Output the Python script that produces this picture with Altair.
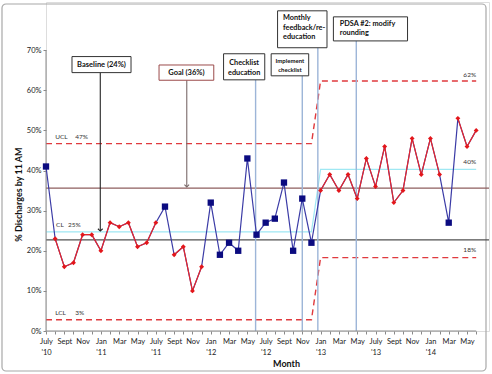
import json
import altair as alt
import pandas as pd

# ---------------- data ----------------
month_idx = list(range(48))  # July 2010 ... June 2014
pct = [41, 23, 16, 17, 24, 24, 20, 27, 26, 27, 21, 22, 27, 31, 19, 21, 10, 16,
       32, 19, 22, 20, 43, 24, 27, 28, 37, 20, 33, 22, 35, 39, 35, 39, 33, 43,
       36, 46, 32, 35, 48, 39, 48, 39, 27, 53, 46, 50]
kind = ["b"] + ["r"] * 12 + ["b"] + ["r"] * 4 + ["b"] * 12 + ["r"] * 14 + ["b"] + ["r"] * 3

tick_month = ["July", "Sept", "Nov", "Jan", "Mar", "May"] * 4
tick_year = {0: "'10", 6: "'11", 12: "'11", 18: "'12", 24: "'12", 30: "'13", 36: "'13", 42: "'14"}

# control limits (step after Dec '12)
ucl_x = [0, 29, 30, 47]
ucl_y = [46.7, 46.7, 62.3, 62.3]
cl_x = [0, 29, 30, 47]
cl_y = [24.7, 24.7, 40.3, 40.3]
lcl_x = [0, 29, 30, 47]
lcl_y = [2.8, 2.8, 18.3, 18.3]

baseline_level = 22.7
goal_level = 35.6

limit_label_text = ["UCL", "47%", "CL", "25%", "LCL", "3%", "62%", "40%", "18%"]
limit_label_x = [1.0, 3.2, 1.1, 2.4, 1.0, 3.2, 45.6, 45.6, 45.6]
limit_label_y = [48.4, 48.4, 26.3, 26.3, 4.4, 4.6, 63.8, 42.1, 20.2]

# event annotations
event_text = ["Checklist\neducation", "Implement\nchecklist",
              "Monthly\nfeedback/re-\neducation", "PDSA #2: modify\nrounding"]
event_x = [22.9, 28.0, 29.7, 33.9]
event_top = [62.6, 63.6, 70.6, 72.3]
box_x1 = [19.4, 24.6, 25.3, 31.4]
box_x2 = [23.9, 28.7, 30.7, 39.5]
box_y1 = [62.6, 63.6, 70.6, 72.3]
box_y2 = [69.1, 69.1, 79.8, 78.3]
text_x = [21.65, 26.65, 25.9, 32.1]
text_y = [66.7, 67.3, 77.9, 76.4]
text_align = ["center", "center", "left", "left"]
text_size = [7.3, 6, 7.3, 7.3]
text_lh = [10, 9, 9.5, 9]

# arrows: Baseline and Goal
arrow_text = ["Baseline (24%)", "Goal (36%)"]
arrow_x = [5.93, 15.38]
arrow_from = [64.4, 62.5]
arrow_to = [24.9, 35.9]
abox_x1 = [2.84, 12.35]
abox_x2 = [9.29, 18.33]
abox_y1 = [64.4, 62.5]
abox_y2 = [68.4, 66.3]

# ---------------- tables ----------------
FONT = "Lato"
series = pd.DataFrame({"x": month_idx, "y": [v / 100 for v in pct], "kind": kind})
runs, run_id, prev = [], 0, None
for k in kind:
    if k == "r" and prev != "r":
        run_id += 1
    runs.append(run_id if k == "r" else None)
    prev = k
series["run"] = runs
red = series[series.kind == "r"]
blue = series[series.kind == "b"]

limits = pd.concat([
    pd.DataFrame({"x": ucl_x, "y": [v / 100 for v in ucl_y], "name": "UCL"}),
    pd.DataFrame({"x": lcl_x, "y": [v / 100 for v in lcl_y], "name": "LCL"}),
])
cl = pd.DataFrame({"x": cl_x, "y": [v / 100 for v in cl_y], "name": "CL"})
hlines = pd.DataFrame({"y": [baseline_level / 100, goal_level / 100], "c": ["base", "goal"]})
lim_labels = pd.DataFrame({"x": limit_label_x, "y": [v / 100 for v in limit_label_y], "t": limit_label_text})
events = pd.DataFrame({"x": event_x, "y": [0] * 4, "y2": [v / 100 for v in event_top]})
boxes = pd.DataFrame({"x": box_x1, "x2": box_x2, "y": [v / 100 for v in box_y1],
                      "y2": [v / 100 for v in box_y2]})
arrows = pd.DataFrame({"x": arrow_x, "y": [v / 100 for v in arrow_to], "y2": [v / 100 for v in arrow_from],
                       "c": ["base", "goal"]})
aboxes = pd.DataFrame({"x": abox_x1, "x2": abox_x2, "y": [v / 100 for v in abox_y1],
                       "y2": [v / 100 for v in abox_y2], "t": arrow_text, "c": ["base", "goal"]})

labels = []
for i in month_idx:
    if i % 2 == 0:
        m = tick_month[i // 2]
        labels.append([m, tick_year[i]] if i in tick_year else m)
    else:
        labels.append("")
label_expr = json.dumps(labels) + "[datum.value]"

xs = alt.Scale(domain=[0, 48.4], nice=False, zero=False)
ys = alt.Scale(domain=[0, 0.82], nice=False, zero=False)
x_axis = alt.Axis(values=month_idx, labelExpr=label_expr, domain=False, tickSize=3, tickColor="#8a8a8a",
                  labelFont=FONT, labelFontSize=7.5, labelColor="#222", labelPadding=3, labelLineHeight=11,
                  labelBaseline="top", labelFlush=False, labelOverlap=False, grid=False,
                  title="Month", titleFont=FONT, titleFontSize=9, titleFontWeight="bold", titleColor="#111",
                  titleX=240, titleY=32, titleBaseline="middle", titleAlign="center")
y_axis = alt.Axis(values=[0, 0.1, 0.2, 0.3, 0.4, 0.5, 0.6, 0.7], format=".0%", domain=False, tickSize=3,
                  tickColor="#8a8a8a", labelFont=FONT, labelFontSize=7.5, labelColor="#222", labelPadding=2,
                  grid=False, title="% Discharges by 11 AM", titleFont=FONT, titleFontSize=9,
                  titleFontWeight="bold", titleColor="#111", titleAngle=270, titleX=-28, titleY=192,
                  titleAlign="center", titleBaseline="middle")
X = alt.X("x:Q", scale=xs, axis=x_axis)
Y = alt.Y("y:Q", scale=ys, axis=y_axis)

frame = alt.Chart(pd.DataFrame({"a": [0]})).mark_rect(filled=False, stroke="#a8a8a8", strokeWidth=1.2,
                                                       cornerRadius=4).encode(
    x=alt.value(-44), x2=alt.value(440), y=alt.value(2), y2=alt.value(369))

axis_lines = alt.Chart(pd.DataFrame({"x": [0, 0], "x2": [47, 0], "y": [0, 0], "y2": [0, 0.7]})).mark_rule(
    color="#8a8a8a", strokeWidth=1).encode(x=X, x2="x2:Q", y=Y, y2="y2:Q")

hrules = alt.Chart(hlines).mark_rule(strokeWidth=1.4).encode(
    y=Y, color=alt.Color("c:N", scale=alt.Scale(domain=["base", "goal"], range=["#505050", "#8e5e5e"]), legend=None))

lim_lines = alt.Chart(limits).mark_line(color="#e03a3e", strokeDash=[6, 4], strokeWidth=1.4).encode(
    x=X, y=Y, detail="name:N")
cl_line = alt.Chart(cl).mark_line(color="#9fe8f3", strokeWidth=1.2).encode(x=X, y=Y)

ev_lines = alt.Chart(events).mark_rule(color="#9db5d8", strokeWidth=1.4).encode(x=X, y=Y, y2="y2:Q")

arrow_color = alt.Color("c:N", scale=alt.Scale(domain=["base", "goal"], range=["#222222", "#7a6a6a"]), legend=None)
arrow_shafts = alt.Chart(arrows).mark_rule(strokeWidth=1.1).encode(x=X, y=Y, y2="y2:Q", color=arrow_color)
arrow_heads = alt.Chart(arrows).mark_point(shape="M-1,-1L0,0L1,-1", filled=False, size=22, strokeWidth=1.1,
                                           opacity=1).encode(x=X, y=Y, color=arrow_color)

blue_line = alt.Chart(series).mark_line(color="#3b3ba6", strokeWidth=1.2).encode(x=X, y=Y)
red_line = alt.Chart(red).mark_line(color="#e8262a", strokeWidth=1.2).encode(x=X, y=Y, detail="run:N")
red_pts = alt.Chart(red).mark_point(shape="diamond", filled=True, color="#e3161b", size=24, opacity=1).encode(x=X, y=Y)
blue_pts = alt.Chart(blue).mark_point(shape="square", filled=True, color="#0b0b80", size=40, opacity=1).encode(x=X, y=Y)

lim_text = alt.Chart(lim_labels).mark_text(align="left", baseline="middle", font=FONT, fontSize=6.5,
                                           color="#333").encode(x=X, y=Y, text="t:N")

ev_boxes = alt.Chart(boxes).mark_rect(fill="white", stroke="#333", strokeWidth=1).encode(
    x=X, x2="x2:Q", y=Y, y2="y2:Q")
ev_texts = []
for t, tx, ty, al, fs, lh in zip(event_text, text_x, text_y, text_align, text_size, text_lh):
    ev_texts.append(
        alt.Chart(pd.DataFrame({"x": [tx], "y": [ty / 100], "t": [t]})).mark_text(
            align=al, baseline="middle", lineBreak="\n", font=FONT, fontWeight="bold", fontSize=fs,
            lineHeight=lh, color="#111").encode(x=X, y=Y, text="t:N"))

a_boxes = alt.Chart(aboxes).mark_rect(fill="white", strokeWidth=1).encode(
    x=X, x2="x2:Q", y=Y, y2="y2:Q",
    stroke=alt.Color("c:N", scale=alt.Scale(domain=["base", "goal"], range=["#333333", "#9b4a4a"]), legend=None))
a_text = alt.Chart(aboxes.assign(xm=lambda d: (d.x + d.x2) / 2, ym=lambda d: (d.y + d.y2) / 2)).mark_text(
    align="center", baseline="middle", font=FONT, fontWeight="bold", fontSize=7.5, color="#111").encode(
    x=alt.X("xm:Q", scale=xs, axis=x_axis), y=alt.Y("ym:Q", scale=ys, axis=y_axis), text="t:N")

chart = alt.layer(
    frame, hrules, cl_line, lim_lines, ev_lines, arrow_shafts, arrow_heads, axis_lines,
    blue_line, red_line, red_pts, blue_pts, lim_text, ev_boxes, *ev_texts, a_boxes, a_text
).resolve_scale(color="independent", stroke="independent").properties(
    width=443, height=329,
    autosize=alt.AutoSizeParams(type="none"),
    padding={"left": 46, "top": 2, "right": 3, "bottom": 43},
).configure_view(stroke=None).configure(background="white")

chart.save("out.html", embed_options={"renderer": "svg", "actions": False})
